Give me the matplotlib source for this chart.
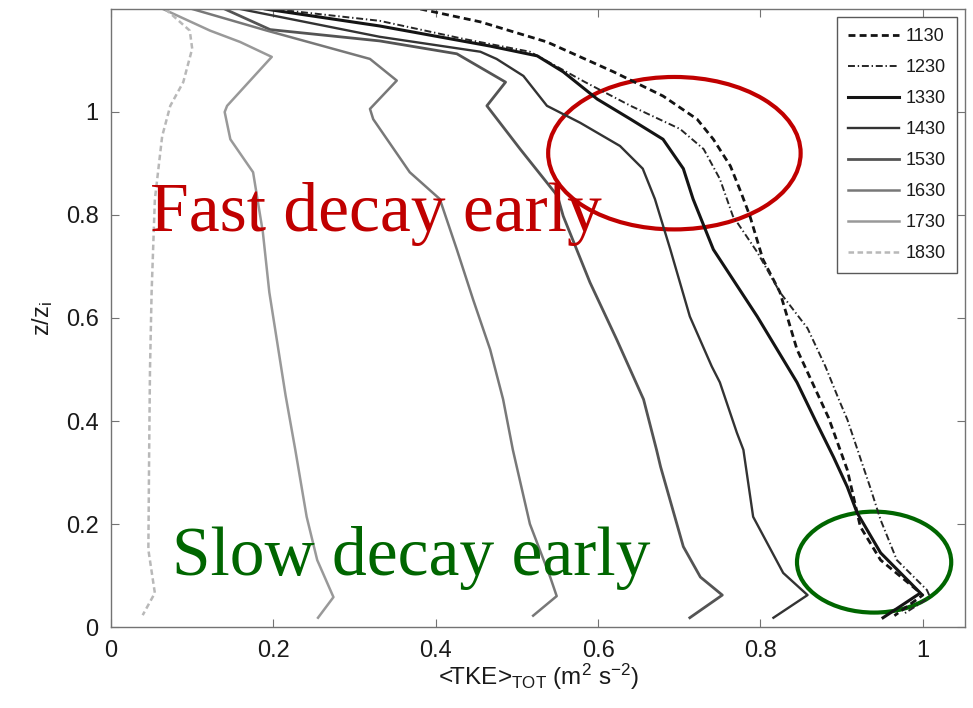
import matplotlib
matplotlib.use("Agg")
import matplotlib.pyplot as plt
from matplotlib.patches import Ellipse

# TKE profiles (x = <TKE>_TOT, y = z/zi)
tke_1130 = [0.381, 0.455, 0.537, 0.619, 0.680, 0.722, 0.742, 0.763, 0.776, 0.787, 0.803, 0.824, 0.845, 0.884, 0.907, 0.923, 0.948, 0.988, 1.000, 0.965]
z_1130 = [1.20, 1.175, 1.136, 1.078, 1.031, 0.986, 0.947, 0.895, 0.844, 0.798, 0.714, 0.650, 0.539, 0.406, 0.305, 0.195, 0.130, 0.078, 0.062, 0.022]

tke_1230 = [0.20, 0.331, 0.434, 0.516, 0.584, 0.640, 0.701, 0.730, 0.750, 0.766, 0.796, 0.824, 0.858, 0.880, 0.897, 0.907, 0.935, 0.948, 0.968, 1.005, 1.009, 0.976]
z_1230 = [1.20, 1.177, 1.142, 1.117, 1.058, 1.012, 0.967, 0.928, 0.870, 0.798, 0.728, 0.650, 0.580, 0.506, 0.440, 0.403, 0.272, 0.208, 0.130, 0.072, 0.058, 0.025]

tke_1330 = [0.19, 0.331, 0.467, 0.525, 0.557, 0.599, 0.640, 0.680, 0.705, 0.717, 0.742, 0.796, 0.845, 0.868, 0.890, 0.907, 0.919, 0.948, 0.997, 0.951]
z_1330 = [1.20, 1.167, 1.128, 1.109, 1.078, 1.025, 0.986, 0.947, 0.890, 0.831, 0.733, 0.603, 0.475, 0.400, 0.330, 0.272, 0.222, 0.144, 0.066, 0.018]

tke_1430 = [0.159, 0.331, 0.455, 0.475, 0.508, 0.537, 0.578, 0.627, 0.655, 0.670, 0.689, 0.713, 0.740, 0.750, 0.771, 0.779, 0.791, 0.828, 0.858, 0.816]
z_1430 = [1.20, 1.146, 1.117, 1.103, 1.070, 1.012, 0.979, 0.934, 0.890, 0.831, 0.733, 0.603, 0.506, 0.475, 0.377, 0.344, 0.214, 0.105, 0.062, 0.018]

tke_1530 = [0.14, 0.196, 0.331, 0.426, 0.486, 0.463, 0.504, 0.550, 0.557, 0.590, 0.623, 0.656, 0.672, 0.677, 0.705, 0.726, 0.753, 0.713]
z_1530 = [1.20, 1.160, 1.138, 1.113, 1.058, 1.012, 0.928, 0.837, 0.798, 0.669, 0.558, 0.442, 0.344, 0.311, 0.156, 0.097, 0.062, 0.018]

tke_1630 = [0.10, 0.192, 0.319, 0.352, 0.319, 0.323, 0.368, 0.405, 0.426, 0.446, 0.467, 0.483, 0.495, 0.516, 0.541, 0.549, 0.520]
z_1630 = [1.20, 1.158, 1.103, 1.061, 1.006, 0.986, 0.883, 0.831, 0.733, 0.636, 0.539, 0.442, 0.344, 0.200, 0.097, 0.060, 0.022]

tke_1730 = [0.064, 0.122, 0.159, 0.198, 0.143, 0.140, 0.147, 0.175, 0.187, 0.195, 0.205, 0.215, 0.227, 0.241, 0.254, 0.274, 0.255]
z_1730 = [1.20, 1.158, 1.136, 1.107, 1.012, 1.000, 0.947, 0.883, 0.767, 0.650, 0.550, 0.450, 0.344, 0.214, 0.130, 0.058, 0.018]

tke_1830 = [0.067, 0.097, 0.100, 0.089, 0.073, 0.063, 0.054, 0.050, 0.048, 0.047, 0.046, 0.054, 0.039]
z_1830 = [1.20, 1.158, 1.123, 1.058, 1.012, 0.953, 0.830, 0.650, 0.500, 0.344, 0.150, 0.066, 0.023]

times = ["1130", "1230", "1330", "1430", "1530", "1630", "1730", "1830"]
tick_vals = [0, 0.2, 0.4, 0.6, 0.8, 1]
tick_labels = ["0", "0.2", "0.4", "0.6", "0.8", "1"]

plt.rcParams.update({
    "font.family": ["Liberation Sans", "DejaVu Sans"],
    "mathtext.default": "regular",
    "lines.scale_dashes": False,
})

fig = plt.figure(figsize=(9.73, 7.08), dpi=100)
ax = fig.add_axes([0.1141, 0.1144, 0.8777, 0.8729])

series = [
    (tke_1130, z_1130, dict(color="0.08", lw=2.0, dashes=(5, 3))),
    (tke_1230, z_1230, dict(color="0.15", lw=1.4, dashes=(5, 2, 1, 2))),
    (tke_1330, z_1330, dict(color="0.08", lw=2.2, ls="-")),
    (tke_1430, z_1430, dict(color="0.2", lw=1.7, ls="-")),
    (tke_1530, z_1530, dict(color="0.33", lw=2.0, ls="-")),
    (tke_1630, z_1630, dict(color="0.47", lw=1.8, ls="-")),
    (tke_1730, z_1730, dict(color="0.6", lw=1.8, ls="-")),
    (tke_1830, z_1830, dict(color="0.72", lw=1.8, dashes=(4, 2.5))),
]
for (x, y, style), lab in zip(series, times):
    ax.plot(x, y, label=lab, solid_joinstyle="round", **style)

ax.set_xlim(0, 1.052)
ax.set_ylim(0, 1.2)
ax.set_xticks(tick_vals)
ax.set_xticklabels(tick_labels)
ax.set_yticks(tick_vals)
ax.set_yticklabels(tick_labels)
ax.tick_params(direction="in", top=True, right=True, length=6, width=0.8,
               color="0.45", labelsize=17, labelcolor="0.1", pad=9)
for sp in ax.spines.values():
    sp.set_color("0.45")
    sp.set_linewidth(1.0)

ax.set_xlabel(r"<TKE>$_{TOT}$ (m$^2$ s$^{-2}$)", fontsize=17.5, color="0.1", labelpad=0)
ax.set_ylabel(r"z/z$_i$", fontsize=17, color="0.1", labelpad=8)

leg = ax.legend(loc="upper right", bbox_to_anchor=(0.9906, 0.987), fontsize=13,
                frameon=True, fancybox=False, framealpha=1, edgecolor="0.35",
                handlelength=2.8, handletextpad=0.4, labelspacing=0.78,
                borderpad=0.6, borderaxespad=0)
leg.get_frame().set_linewidth(1.0)
for t in leg.get_texts():
    t.set_color("0.1")

# annotations
ax.text(0.048, 0.768, "Fast decay early", color="#C00000", fontsize=50,
        family=["Liberation Serif", "DejaVu Serif"], va="baseline", ha="left")
ax.text(0.075, 0.101, "Slow decay early", color="#006600", fontsize=50,
        family=["Liberation Serif", "DejaVu Serif"], va="baseline", ha="left")
ax.add_patch(Ellipse((0.694, 0.920), 0.311, 0.296, fill=False,
                     edgecolor="#C00000", lw=3, clip_on=False))
ax.add_patch(Ellipse((0.940, 0.126), 0.190, 0.196, fill=False,
                     edgecolor="#006600", lw=3, clip_on=False))

fig.savefig("out.png", dpi=100)
